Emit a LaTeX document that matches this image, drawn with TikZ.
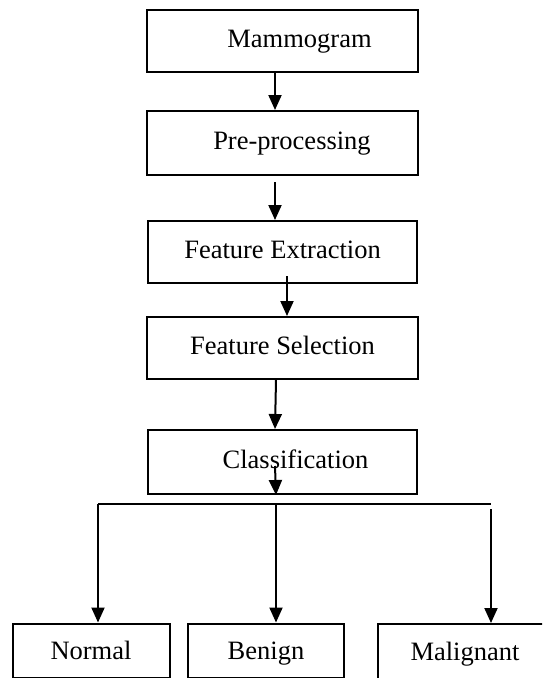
\documentclass[tikz,border=0pt]{standalone}
\usepackage{fontspec}
\setmainfont{Liberation Serif}
\usepackage{tikz}
\usetikzlibrary{positioning,arrows.meta}

\begin{document}
\begin{tikzpicture}[x=1pt,y=1pt,line width=2pt,
                    node distance=40pt,
                    stage/.style={rectangle,draw,minimum width=271pt,minimum height=62pt,
                                  text height=18pt,text depth=6pt,
                                  font=\fontsize{26.5}{30}\selectfont},
                    result/.style={stage,minimum width=157pt,minimum height=54pt,text height=24pt},
                    flow/.style={-{Triangle[width=13pt,length=15pt]}}]
  \useasboundingbox (0,0) rectangle (542,-678);
  \clip (0,0) rectangle (542,-678);

  \node[stage] (mam) at (282.5,-41) {\hspace*{34pt}Mammogram};
  \node[stage,minimum height=64pt] (pre) [below=37pt of mam] {\hspace*{19pt}Pre-processing};
  \node[stage,minimum width=269pt] (fext) [below=44pt of pre] {Feature Extraction};
  \node[stage] (fsel) [below=32pt of fext] {Feature Selection};
  \node[stage,minimum width=269pt,minimum height=64pt] (cls) [below=49pt of fsel] {\hspace*{26pt}Classification};

  \node[result] (nor) at (91,-650.5) {Normal};
  \node[result,minimum width=156pt] (ben) at (266,-650.5) {Benign};
  \node[result,minimum width=174pt,minimum height=62pt,text height=16pt] (mal) at (465,-655) {Malignant};

  \coordinate (split) at (276,-504);
  \coordinate (leftend) at (98,-504);
  \coordinate (rightend) at (491,-504);

  \draw[flow] ([xshift=-7.5pt]mam.south) -- ([xshift=-7.5pt]pre.north);
  \draw[flow] ([xshift=-7.5pt,yshift=-6pt]pre.south) -- ([xshift=-7.5pt]fext.north);
  \draw[flow] ([xshift=4.5pt,yshift=8pt]fext.south) -- ([xshift=4.5pt]fsel.north);
  \draw[flow] ([xshift=-6.5pt]fsel.south) -- ([xshift=-7.5pt]cls.north);
  \draw[flow] ([xshift=-7.5pt,yshift=29pt]cls.south) -- ([yshift=9pt]split);

  \draw (leftend) -- (rightend);
  \draw[flow] (leftend) -- (leftend |- nor.north);
  \draw[flow] (split) -- (split |- ben.north);
  \draw[flow] ([yshift=-5pt]rightend) -- (rightend |- mal.north);

\end{tikzpicture}
\end{document}
